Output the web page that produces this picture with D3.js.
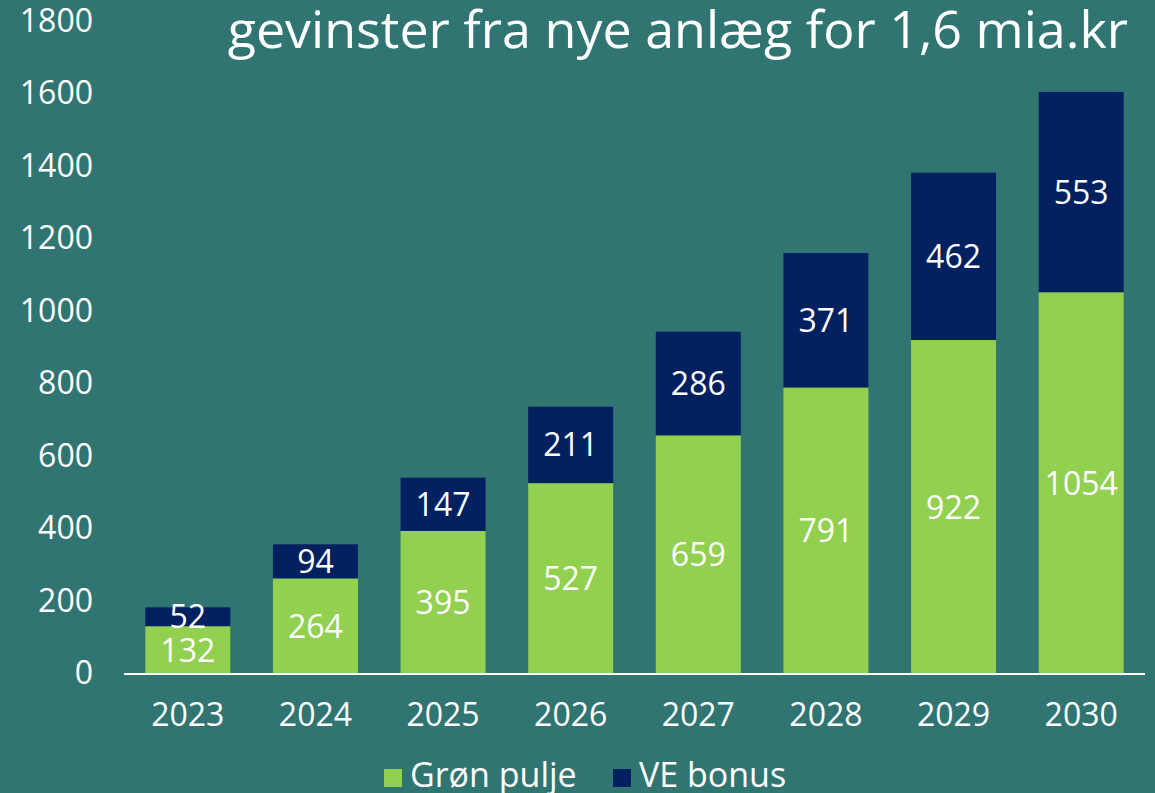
<!DOCTYPE html>
<html><head><meta charset="utf-8">
<script src="https://cdn.jsdelivr.net/npm/d3@7"></script>
<style>
html,body{margin:0;padding:0;background:#307572;}
svg{display:block;}
text{font-family:"Open Sans",sans-serif;fill:#fff;}
</style></head>
<body>
<svg id="c" width="1155" height="793"></svg>
<script>
const years = ["2023","2024","2025","2026","2027","2028","2029","2030"];
const gronPulje = [132,264,395,527,659,791,922,1054];
const veBonus = [52,94,147,211,286,371,462,553];
const yTicks = [0,200,400,600,800,1000,1200,1400,1600,1800];
const seriesNames = ["Grøn pulje","VE bonus"];
const colors = ["#92D050","#002060"];
const title = "gevinster fra nye anlæg for 1,6 mia.kr";

const svg = d3.select("#c");
svg.append("rect").attr("width",1155).attr("height",793).attr("fill","#307572");

const x = d3.scaleBand().domain(years).range([124,1145]).paddingInner(0.334).paddingOuter(0.167);
const y = d3.scaleLinear().domain([0,1800]).range([674,22]);

const rows = years.map((yr,i)=>({year:yr,"Grøn pulje":gronPulje[i],"VE bonus":veBonus[i]}));
const stack = d3.stack().keys(seriesNames)(rows);

const g = svg.append("g");
stack.forEach((s,si)=>{
  g.selectAll(null).data(s).join("rect")
    .attr("x",d=>x(d.data.year))
    .attr("width",x.bandwidth())
    .attr("y",d=>y(d[1]))
    .attr("height",d=>y(d[0])-y(d[1]))
    .attr("fill",colors[si]);
});
stack.forEach((s,si)=>{
  g.selectAll(null).data(s).join("text")
    .attr("x",d=>x(d.data.year)+x.bandwidth()/2)
    .attr("y",d=>(y(d[0])+y(d[1]))/2+11.5)
    .attr("text-anchor","middle")
    .attr("font-size",32)
    .text(d=>d[1]-d[0]);
});

// y axis labels
svg.append("g").selectAll("text").data(yTicks).join("text")
  .attr("x",93).attr("y",d=>y(d)+10)
  .attr("text-anchor","end")
  .attr("font-size",32).text(d=>d);

// x axis line
svg.append("line").attr("x1",124).attr("x2",1145).attr("y1",y(0)).attr("y2",y(0))
  .attr("stroke","#fff").attr("stroke-width",2);

// x labels
svg.append("g").selectAll("text").data(years).join("text")
  .attr("x",d=>x(d)+x.bandwidth()/2).attr("y",726)
  .attr("text-anchor","middle")
  .attr("font-size",32).text(d=>d);

// title
svg.append("text").attr("x",1128).attr("y",48).attr("text-anchor","end")
  .attr("font-size",52).text(title);

// legend
const leg = [{n:seriesNames[0],c:colors[0],x:384},{n:seriesNames[1],c:colors[1],x:613}];
leg.forEach(l=>{
  svg.append("rect").attr("x",l.x).attr("y",769).attr("width",18).attr("height",18).attr("fill",l.c);
  svg.append("text").attr("x",l.x+26).attr("y",787)
    .attr("font-size",34).text(l.n);
});
</script>
</body></html>
